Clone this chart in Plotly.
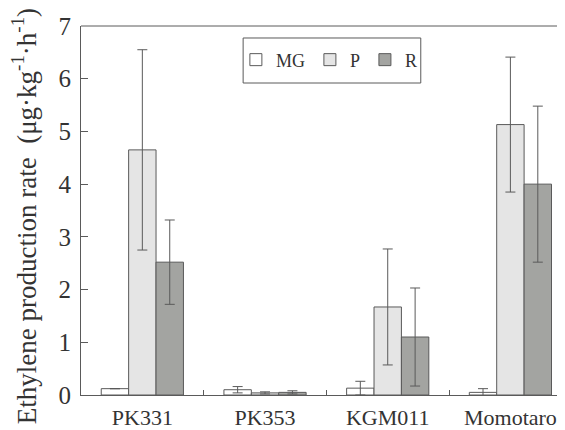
import plotly.graph_objects as go

categories = ["PK331", "PK353", "KGM011", "Momotaro"]
mg_values = [0.12, 0.10, 0.13, 0.05]
mg_err = [0.0, 0.06, 0.13, 0.07]
p_values = [4.65, 0.04, 1.67, 5.13]
p_err = [1.90, 0.02, 1.10, 1.28]
r_values = [2.52, 0.05, 1.10, 4.00]
r_err = [0.80, 0.03, 0.93, 1.48]
y_ticks = [0, 1, 2, 3, 4, 5, 6, 7]

FONT = "Liberation Serif"
LINE = "#5a5a5a"
TXT = "#333333"

def bar(name, vals, errs, fill):
    return go.Bar(
        name=name, x=categories, y=vals,
        marker=dict(color=fill, line=dict(color=LINE, width=1)),
        error_y=dict(type="data", array=errs, visible=True, color=LINE, thickness=1, width=5),
    )

fig = go.Figure([
    bar("MG", mg_values, mg_err, "#ffffff"),
    bar("P", p_values, p_err, "#e5e5e5"),
    bar("R", r_values, r_err, "#a3a4a1"),
])

fig.update_layout(
    template="none",
    width=565, height=430,
    margin=dict(l=73, r=8, t=18, b=43, pad=0),
    paper_bgcolor="white", plot_bgcolor="white",
    barmode="group", bargap=0.33, bargroupgap=0,
    font=dict(family=FONT, color=TXT, size=20),
    showlegend=True,
    legend=dict(
        orientation="h", x=0.320, y=0.908, xanchor="left", yanchor="middle",
        borderwidth=0, bgcolor="rgba(0,0,0,0)",
        font=dict(family=FONT, size=18, color=TXT),
    ),
    xaxis=dict(
        range=[-0.5, 3.445], showline=True, linecolor=LINE, linewidth=1,
        ticks="inside", tickson="boundaries", ticklen=5, tickcolor=LINE,
        tickfont=dict(family=FONT, size=22, color=TXT),
        ticklabelstandoff=3, automargin=False, showgrid=False, zeroline=False,
    ),
    yaxis=dict(
        range=[0, 7], tickvals=y_ticks, showline=True, linecolor=LINE, linewidth=1,
        ticks="inside", ticklen=7, tickcolor=LINE, showgrid=False, zeroline=False,
        tickfont=dict(family=FONT, size=25, color=TXT),
        ticklabelstandoff=4, automargin=False,
    ),
    shapes=[
        dict(type="line", xref="paper", yref="paper", x0=0, x1=1, y0=1, y1=1,
             line=dict(color=LINE, width=1)),
        dict(type="rect", xref="paper", yref="paper", x0=0.335, x1=0.702, y0=0.8455, y1=0.9675,
             line=dict(color=LINE, width=1), fillcolor="rgba(0,0,0,0)", layer="below"),
    ],
    annotations=[dict(
        text="Ethylene production rate\u00a0 (μg·kg<sup>-1</sup>·h<sup>-1</sup>)",
        xref="paper", yref="paper", x=-0.116, y=0.484, xanchor="center", yanchor="middle",
        textangle=-90, showarrow=False,
        font=dict(family=FONT, size=27, color=TXT),
    )],
)

fig.write_html("out.html")
